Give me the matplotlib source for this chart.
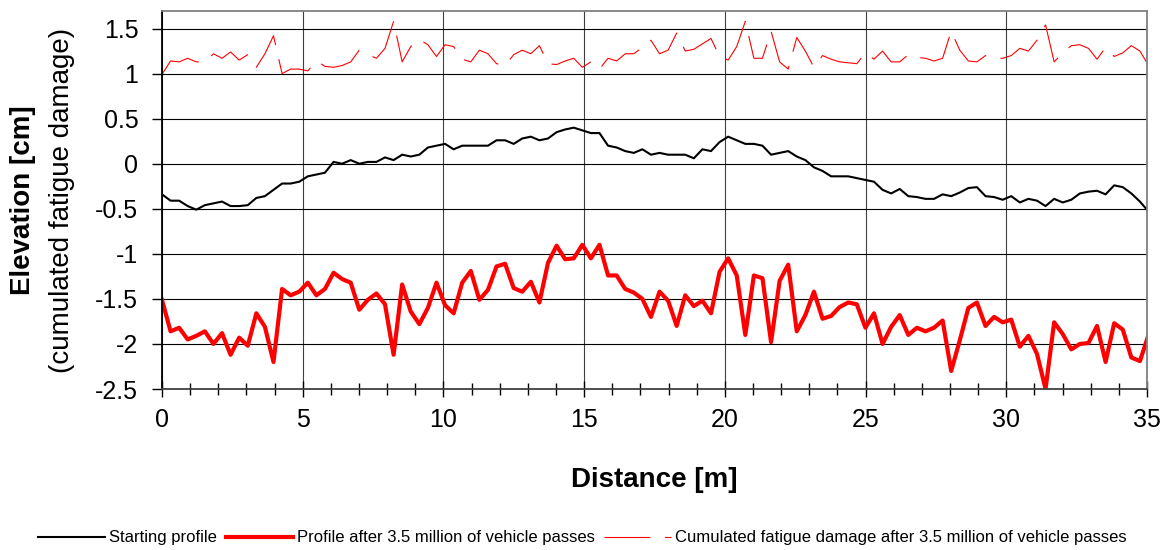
import matplotlib
matplotlib.use("Agg")
import matplotlib.pyplot as plt
import numpy as np
from matplotlib.ticker import FuncFormatter, MultipleLocator

plt.rcParams["font.family"] = ["Liberation Sans", "DejaVu Sans"]
plt.rcParams["axes.unicode_minus"] = False
plt.rcParams["lines.scale_dashes"] = False

# Elevation readings (cm), one every foot along the section
starting_profile = [
    -0.34, -0.41, -0.41, -0.47, -0.51, -0.46, -0.44, -0.42, -0.47, -0.47,
    -0.46, -0.38, -0.36, -0.29, -0.22, -0.22, -0.20, -0.14, -0.12, -0.10,
    0.02, 0.00, 0.04, 0.00, 0.02, 0.02, 0.07, 0.04, 0.10, 0.08,
    0.10, 0.18, 0.20, 0.22, 0.16, 0.20, 0.20, 0.20, 0.20, 0.26,
    0.26, 0.22, 0.28, 0.30, 0.26, 0.28, 0.35, 0.38, 0.40, 0.37,
    0.34, 0.34, 0.20, 0.18, 0.14, 0.12, 0.16, 0.10, 0.12, 0.10,
    0.10, 0.10, 0.06, 0.16, 0.14, 0.24, 0.30, 0.26, 0.22, 0.22,
    0.20, 0.10, 0.12, 0.14, 0.08, 0.04, -0.04, -0.08, -0.14, -0.14,
    -0.14, -0.16, -0.18, -0.20, -0.29, -0.33, -0.28, -0.36, -0.37, -0.39,
    -0.39, -0.34, -0.36, -0.32, -0.27, -0.26, -0.36, -0.37, -0.40, -0.36,
    -0.43, -0.39, -0.41, -0.47, -0.39, -0.43, -0.40, -0.33, -0.31, -0.30,
    -0.34, -0.24, -0.26, -0.33, -0.42, -0.53,
]
profile_after = [
    -1.51, -1.86, -1.82, -1.95, -1.91, -1.86, -2.00, -1.88, -2.12, -1.93,
    -2.02, -1.66, -1.81, -2.20, -1.39, -1.46, -1.42, -1.32, -1.46, -1.39,
    -1.21, -1.28, -1.32, -1.62, -1.51, -1.44, -1.56, -2.12, -1.34, -1.64,
    -1.78, -1.60, -1.32, -1.57, -1.66, -1.32, -1.19, -1.51, -1.40, -1.14,
    -1.11, -1.38, -1.42, -1.31, -1.54, -1.10, -0.91, -1.06, -1.05, -0.90,
    -1.05, -0.90, -1.24, -1.24, -1.39, -1.43, -1.50, -1.70, -1.42, -1.52,
    -1.80, -1.46, -1.58, -1.52, -1.66, -1.20, -1.05, -1.24, -1.90, -1.24,
    -1.27, -1.98, -1.30, -1.12, -1.86, -1.68, -1.42, -1.72, -1.69, -1.59,
    -1.54, -1.56, -1.82, -1.66, -2.00, -1.81, -1.68, -1.90, -1.82, -1.86,
    -1.82, -1.74, -2.30, -1.96, -1.60, -1.54, -1.80, -1.70, -1.76, -1.73,
    -2.03, -1.91, -2.11, -2.50, -1.76, -1.89, -2.06, -2.00, -1.99, -1.80,
    -2.20, -1.77, -1.84, -2.15, -2.19, -1.90,
]
fatigue_damage = [
    0.99, 1.14, 1.13, 1.17, 1.13, 1.13, 1.22, 1.17, 1.24, 1.15,
    1.21, 1.07, 1.22, 1.42, 1.00, 1.05, 1.05, 1.03, 1.14, 1.08,
    1.07, 1.09, 1.13, 1.26, 1.21, 1.17, 1.28, 1.58, 1.13, 1.30,
    1.38, 1.32, 1.19, 1.32, 1.30, 1.16, 1.13, 1.26, 1.22, 1.11,
    1.09, 1.21, 1.26, 1.22, 1.31, 1.11, 1.10, 1.14, 1.17, 1.07,
    1.13, 1.05, 1.17, 1.14, 1.22, 1.22, 1.29, 1.37, 1.22, 1.26,
    1.45, 1.25, 1.27, 1.33, 1.39, 1.19, 1.15, 1.30, 1.58, 1.17,
    1.17, 1.47, 1.13, 1.05, 1.40, 1.25, 1.07, 1.20, 1.16, 1.13,
    1.12, 1.11, 1.23, 1.16, 1.25, 1.13, 1.13, 1.21, 1.18, 1.17,
    1.14, 1.17, 1.47, 1.26, 1.14, 1.13, 1.20, 1.17, 1.17, 1.20,
    1.28, 1.25, 1.37, 1.54, 1.13, 1.23, 1.31, 1.32, 1.28, 1.16,
    1.29, 1.19, 1.23, 1.31, 1.25, 1.09,
]
series_labels = [
    "Starting profile",
    "Profile after 3.5 million of vehicle passes",
    "Cumulated fatigue damage after 3.5 million of vehicle passes",
]

step_m = 0.3048  # one reading per foot
distance = np.arange(len(starting_profile)) * step_m

fig = plt.figure(figsize=(11.72, 5.5), dpi=100)
ax = fig.add_axes([0.1382, 0.2927, 0.8405, 0.6882])
ax.set_axisbelow(True)

ax.plot(distance, starting_profile, color="black", linewidth=1.5,
        label=series_labels[0])
ax.plot(distance, profile_after, color="#ff0000", linewidth=3.0,
        label=series_labels[1])
ax.plot(distance, fatigue_damage, color="#ff0000", linewidth=0.8,
        dashes=(33, 10.5), label=series_labels[2])

ax.set_xlim(0, 35)
ax.set_ylim(-2.5, 1.7)
ax.set_yticks(np.arange(-2.5, 1.51, 0.5))
ax.yaxis.set_major_formatter(FuncFormatter(lambda v, pos: "%g" % v))
ax.xaxis.set_major_locator(MultipleLocator(5))
ax.xaxis.set_minor_locator(MultipleLocator(1))

ax.grid(axis="y", color="black", linewidth=0.8)
ax.grid(axis="x", color="#404040", linewidth=0.8)

ax.tick_params(axis="x", which="major", direction="inout", length=11,
               width=1, labelsize=18, pad=8)
ax.tick_params(axis="x", which="minor", direction="inout", length=9,
               width=1)
ax.tick_params(axis="y", direction="out", length=7, width=1,
               labelsize=18, pad=10)

ax.spines["left"].set_color("black")
ax.spines["bottom"].set_color("#404040")
for side in ("top", "right"):
    ax.spines[side].set_color("#808080")
for side in ax.spines:
    ax.spines[side].set_linewidth(1.3)

# axis titles placed by hand, as in the source sheet
fig.text(0.5585, 0.1273, "Distance [m]", fontsize=20, fontweight="bold",
         ha="center", va="center")
fig.text(23 / 1172, 0.636, "Elevation [cm]", fontsize=20, fontweight="bold",
         rotation=90, ha="center", va="center")
fig.text(62 / 1172, 0.636, "(cumulated fatigue damage)", fontsize=20,
         rotation=90, ha="center", va="center")

fig.legend(loc="center", bbox_to_anchor=(0.497, 0.022), ncol=3,
           frameon=False, fontsize=12, handlelength=4.0,
           handletextpad=0.25, columnspacing=0.55, borderaxespad=0)

fig.savefig("out.png", dpi=100)
